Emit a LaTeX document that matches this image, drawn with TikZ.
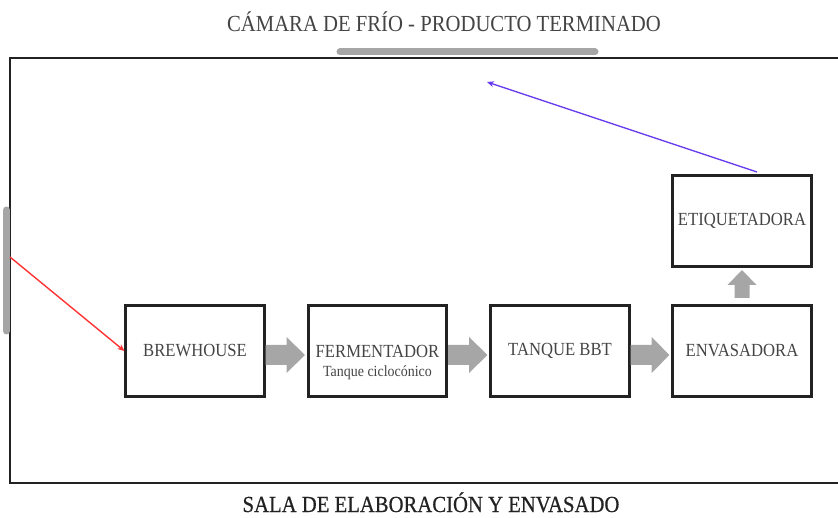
\documentclass[tikz,border=0pt]{standalone}
\usepackage{fontspec}
\setmainfont{Liberation Serif}[FakeStretch=0.9]
\newfontfamily\heavyserif{Liberation Serif}[FakeStretch=0.9,FakeBold=0.6]
\usetikzlibrary{calc,arrows.meta}
\definecolor{txt}{HTML}{444444}
\definecolor{boxline}{HTML}{222222}
\definecolor{agray}{HTML}{A6A6A6}
\definecolor{redarrow}{HTML}{FF3333}
\definecolor{purplearrow}{HTML}{6A3CF0}
\tikzset{
  stage/.style={draw=boxline, line width=2.6pt, minimum width=138.5pt, minimum height=91.5pt, inner sep=0pt, text=txt, font=\fontsize{18.5}{21}\selectfont},
  subtext/.style={text=txt, inner sep=0pt, font=\fontsize{15.5}{18}\selectfont},
  roomtitle/.style={inner sep=0pt, font=\fontsize{23}{26}\selectfont},
  door/.style={draw=agray, line width=7pt, line cap=round},
  wall/.style={draw=boxline, line width=1.8pt},
  flow/.style={fill=agray},
  route/.style={line width=1.4pt, -{Stealth[length=7pt,width=6pt]}}
}
\begin{document}
\begin{tikzpicture}[x=1pt,y=-1pt]
\useasboundingbox (0,0) rectangle (838,518);
% walls
\draw[wall] (848,58) -- (10,58) -- (10,483) -- (848,483);
% doors
\coordinate (topdoorA) at (340,52);
\coordinate (topdoorB) at (595,52);
\draw[door] (topdoorA) -- (topdoorB);
\coordinate (leftdoorA) at (6.5,210);
\coordinate (leftdoorB) at (6.5,331);
\draw[door] (leftdoorA) -- (leftdoorB);
% titles
\node[roomtitle, text=txt, anchor=base] (title) at (444,32) {CÁMARA DE FRÍO - PRODUCTO TERMINADO};
\node[roomtitle, text=boxline, anchor=base, font=\heavyserif\fontsize{23}{26}\selectfont] (bottomtitle) at (431,512) {SALA DE ELABORACIÓN Y ENVASADO};
% stages
\node[stage] (brew) at (195,351) {BREWHOUSE};
\node[stage] (ferm) at (377.5,351) {FERMENTADOR};
\node[subtext, anchor=base] (fermsub) at (377.5,377) {Tanque ciclocónico};
\node[stage] (bbt) at (560,351) {TANQUE BBT};
\node[stage] (envas) at (742,351) {ENVASADORA};
\node[stage] (etiq) at (742,221) {ETIQUETADORA};
% block arrows
\newcommand\flowright[2]{%
  \fill[flow] ($(#1.east)+(0,-6)$) -- ($(#1.east)+(21,-6)$) -- ($(#1.east)+(21,-14)$)
    -- ($(#2.west)+(-2,4)$) -- ($(#1.east)+(21,22)$) -- ($(#1.east)+(21,14)$)
    -- ($(#1.east)+(0,14)$) -- cycle;}
\flowright{brew}{ferm}
\flowright{ferm}{bbt}
\flowright{bbt}{envas}
\fill[flow] ($(envas.north)+(-7.5,-6)$) -- ($(envas.north)+(-7.5,-19)$) -- ($(envas.north)+(-14.5,-19)$)
  -- ($(etiq.south)+(0,2)$) -- ($(envas.north)+(14.5,-19)$) -- ($(envas.north)+(7.5,-19)$)
  -- ($(envas.north)+(7.5,-6)$) -- cycle;
% routes
\coordinate (entry) at (10,257);
\draw[route, redarrow] (entry) -- (brew.west);
\coordinate (etiqout) at (757,172);
\coordinate (exitpt) at (487,82);
\draw[route, purplearrow] (etiqout) -- (exitpt);
\end{tikzpicture}
\end{document}
